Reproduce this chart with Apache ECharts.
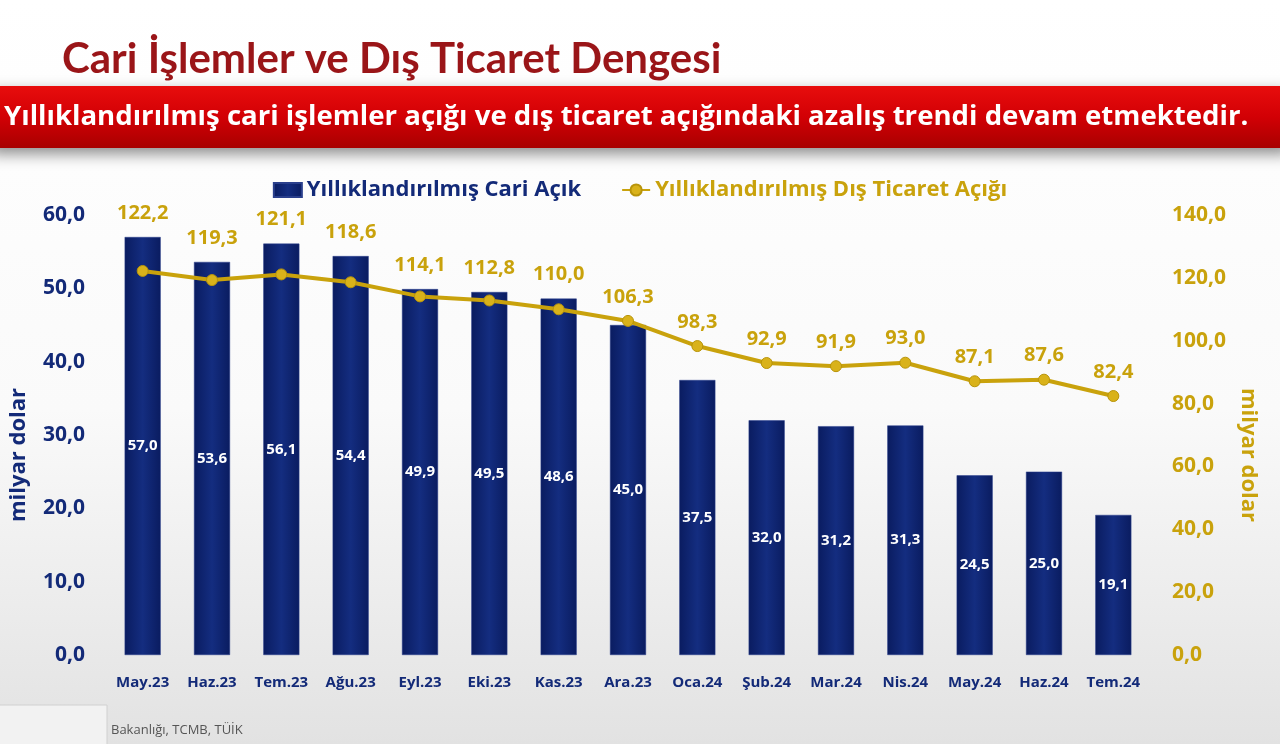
<!DOCTYPE html>
<html>
<head>
<meta charset="utf-8">
<script src="https://cdn.jsdelivr.net/npm/echarts@6/dist/echarts.min.js"></script>
<style>
html,body{margin:0;padding:0;width:1280px;height:744px;overflow:hidden;background:#fff;}
#c{width:1280px;height:744px;}
</style>
</head>
<body>
<div id="c"></div>
<script>
const categories = ['May.23','Haz.23','Tem.23','Ağu.23','Eyl.23','Eki.23','Kas.23','Ara.23','Oca.24','Şub.24','Mar.24','Nis.24','May.24','Haz.24','Tem.24'];
const cariAcik = [57.0, 53.6, 56.1, 54.4, 49.9, 49.5, 48.6, 45.0, 37.5, 32.0, 31.2, 31.3, 24.5, 25.0, 19.1];
const disTicaretAcigi = [122.2, 119.3, 121.1, 118.6, 114.1, 112.8, 110.0, 106.3, 98.3, 92.9, 91.9, 93.0, 87.1, 87.6, 82.4];
const leftTicks = {min: 0, max: 60, interval: 10};
const rightTicks = {min: 0, max: 140, interval: 20};
const seriesNames = ['Yıllıklandırılmış Cari Açık', 'Yıllıklandırılmış Dış Ticaret Açığı'];
const titleText = 'Cari İşlemler ve Dış Ticaret Dengesi';
const bannerText = 'Yıllıklandırılmış cari işlemler açığı ve dış ticaret açığındaki azalış trendi devam etmektedir.';
const axisName = 'milyar dolar';
const sourceText = 'Bakanlığı, TCMB, TÜİK';

const FONT = '"Open Sans", Lato, sans-serif';
const TITLE_FONT = 'Lato, "Open Sans", sans-serif';
const NAVY = '#132a78';
const GOLD = '#c9a20c';
const fmt = v => v.toFixed(1).replace('.', ',');

const chart = echarts.init(document.getElementById('c'));

function lineData(distances) {
  return disTicaretAcigi.map((v, i) => ({
    value: v,
    label: {distance: distances ? distances[i] : 8}
  }));
}

const option = {
  animation: false,
  textStyle: {fontFamily: FONT},
  title: {
    text: titleText,
    left: 57, top: 33,
    textStyle: {fontFamily: TITLE_FONT, fontSize: 42, fontWeight: 'bold', color: '#9a1518'}
  },
  graphic: [
    {type: 'rect', z: -10, silent: true,
     shape: {x: 0, y: 0, width: 1280, height: 744},
     style: {fill: new echarts.graphic.LinearGradient(0, 0, 0, 1, [
       {offset: 0, color: '#ffffff'}, {offset: 0.55, color: '#fafafa'}, {offset: 1, color: '#e2e2e2'}])}},
    {type: 'rect', z: 5, silent: true,
     shape: {x: -10, y: 86, width: 1300, height: 62},
     style: {fill: new echarts.graphic.LinearGradient(0, 0, 0, 1, [
       {offset: 0, color: '#e80d0d'}, {offset: 0.5, color: '#d20005'}, {offset: 1, color: '#a80000'}]),
       shadowBlur: 14, shadowColor: 'rgba(0,0,0,0.45)', shadowOffsetY: 6}},
    {type: 'text', z: 6, silent: true, left: 4, top: 103,
     style: {text: bannerText, fill: '#ffffff', font: 'bold 27.6px ' + FONT}},
    {type: 'rect', z: 1, silent: true,
     shape: {x: -1, y: 705, width: 108, height: 45},
     style: {fill: '#f2f2f2', stroke: '#d0d0d0', lineWidth: 1}},
    {type: 'text', z: 6, silent: true, left: 111, top: 724,
     style: {text: sourceText, fill: '#555555', font: '13px ' + FONT}}
  ],
  legend: {
    top: 174, left: 'center', itemGap: 40,
    itemWidth: 28, itemHeight: 14,
    textStyle: {fontFamily: FONT, fontSize: 22, fontWeight: 'bold'},
    data: [
      {name: seriesNames[0], icon: 'rect', textStyle: {color: NAVY}},
      {name: seriesNames[1], textStyle: {color: GOLD}}
    ]
  },
  grid: {left: 103, right: 132, top: 215, bottom: 89, containLabel: false},
  xAxis: {
    type: 'category', data: categories,
    axisLine: {show: false}, axisTick: {show: false},
    axisLabel: {color: NAVY, fontFamily: FONT, fontSize: 15, fontWeight: 'bold', margin: 20, interval: 0}
  },
  yAxis: [
    {type: 'value', min: leftTicks.min, max: leftTicks.max, interval: leftTicks.interval,
     name: axisName, nameLocation: 'middle', nameGap: 78,
     nameTextStyle: {color: NAVY, fontFamily: FONT, fontSize: 22, fontWeight: 'bold', padding: [0, 40, 0, 0]},
     splitLine: {show: false}, axisLine: {show: false}, axisTick: {show: false},
     axisLabel: {color: NAVY, fontFamily: FONT, fontSize: 21, fontWeight: 'bold', margin: 23, formatter: fmt}},
    {type: 'value', min: rightTicks.min, max: rightTicks.max, interval: rightTicks.interval,
     name: axisName, nameLocation: 'middle', nameGap: 86, nameRotate: -90,
     nameTextStyle: {color: GOLD, fontFamily: FONT, fontSize: 22, fontWeight: 'bold', padding: [0, 0, 0, 40]},
     splitLine: {show: false}, axisLine: {show: false}, axisTick: {show: false},
     axisLabel: {color: GOLD, fontFamily: FONT, fontSize: 21, fontWeight: 'bold', margin: 24, formatter: fmt}}
  ],
  series: [
    {name: seriesNames[0], type: 'bar', yAxisIndex: 0, data: cariAcik,
     barWidth: '52%',
     itemStyle: {color: new echarts.graphic.LinearGradient(0, 0, 1, 0, [
       {offset: 0, color: '#0a1c60'}, {offset: 0.5, color: '#142d80'}, {offset: 1, color: '#0a1c60'}]),
       borderColor: '#2a3f8c', borderWidth: 0.5},
     label: {show: true, position: 'inside', color: '#ffffff', fontFamily: FONT,
       fontSize: 15, fontWeight: 'bold', formatter: p => fmt(p.value)}},
    {name: seriesNames[1], type: 'line', yAxisIndex: 1, data: lineData(null),
     z: 5,
     symbol: 'circle', symbolSize: 11,
     lineStyle: {color: GOLD, width: 4},
     itemStyle: {color: '#d9b21a', borderColor: '#b8940a', borderWidth: 1},
     label: {show: true, position: 'top', color: GOLD, fontFamily: FONT,
       fontSize: 20, fontWeight: 'bold', formatter: p => fmt(p.value)}}
  ]
};

chart.setOption(option);

// Place line labels above whichever is higher: the point or the bar top (computed via axis scales)
const dists = disTicaretAcigi.map((v, i) => {
  const pt = chart.convertToPixel({xAxisIndex: 0, yAxisIndex: 1}, [i, v]);
  const bt = chart.convertToPixel({xAxisIndex: 0, yAxisIndex: 0}, [i, cariAcik[i]]);
  return Math.max(0, pt[1] - bt[1]) + 8;
});
chart.setOption({series: [{}, {data: lineData(dists)}]});
</script>
</body>
</html>
